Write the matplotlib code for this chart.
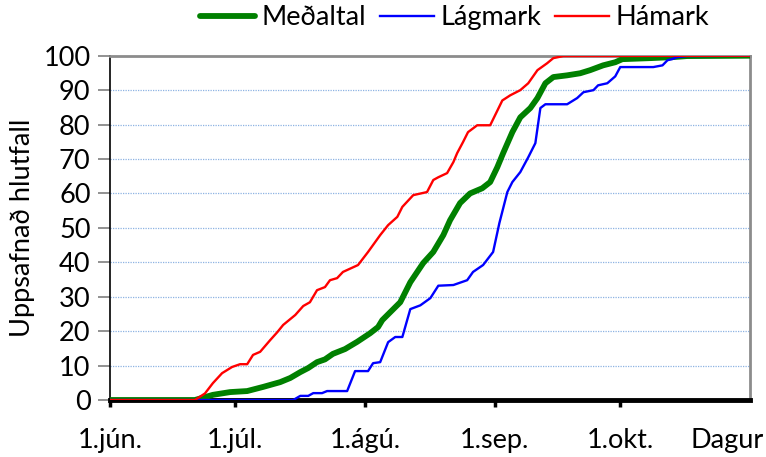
import matplotlib.pyplot as plt

plt.rcParams['font.family'] = ['Lato', 'DejaVu Sans']

# Days counted from 1 June
month_ticks = [0, 30, 61, 92, 122]
month_labels = ['1.jún.', '1.júl.', '1.ágú.', '1.sep.', '1.okt.']
x_end = 153

# Meðaltal (average)
avg_day = [0, 20.3, 24.6, 28.7, 32.8, 36.6, 40.7, 43.1, 45.5, 47.4, 49.5, 51.4,
           53.3, 56.2, 59.1, 62.2, 64.1, 65.1, 67.0, 69.4, 71.8, 74.9, 77.3, 79.7,
           81.3, 83.7, 86.1, 89.0, 90.9, 92.6, 94.0, 96.2, 98.1, 100.5, 102.2,
           104.1, 106.0, 109.3, 112.4, 114.8, 117.9, 120.8, 122.5, 129.2, 134.7,
           138.0, 153]
avg_val = [0, 0, 1.5, 2.3, 2.6, 3.8, 5.2, 6.4, 8.1, 9.3, 11.0, 11.8,
           13.4, 14.8, 16.9, 19.4, 21.2, 23.2, 25.5, 28.4, 34.2, 39.8, 43.0, 47.9,
           52.2, 57.2, 60.0, 61.5, 63.3, 67.6, 71.7, 77.8, 82.1, 84.8, 87.7,
           92.0, 93.8, 94.3, 94.9, 95.8, 97.2, 98.1, 99.0, 99.3, 99.6,
           99.9, 100]

# Lágmark (minimum)
low_day = [0, 43.8, 45.5, 47.4, 48.6, 50.7, 51.9, 56.7, 58.6, 61.7, 62.9, 64.6,
           66.5, 68.2, 69.9, 71.8, 74.2, 76.6, 78.5, 82.1, 85.4, 86.8, 89.2, 91.6,
           93.1, 95.0, 96.2, 98.1, 100.0, 101.7, 102.9, 104.1, 109.3, 111.7, 113.2,
           115.6, 116.7, 118.9, 120.8, 122.0, 129.9, 132.1, 133.3, 134.4, 135.6,
           138.0, 153]
low_val = [0, 0, 1.2, 1.2, 2.0, 2.0, 2.6, 2.6, 8.4, 8.4, 10.7, 11.0,
           16.8, 18.3, 18.3, 26.4, 27.5, 29.6, 33.2, 33.4, 34.8, 37.2, 39.2, 43.0,
           51.4, 60.4, 63.3, 66.2, 70.5, 74.6, 84.8, 85.9, 85.9, 87.7, 89.4,
           90.0, 91.4, 92.0, 94.0, 96.7, 96.7, 97.2, 98.7, 99.0, 99.6,
           99.9, 100]

# Hámark (maximum)
high_day = [0, 20.3, 22.7, 24.6, 26.8, 29.2, 31.1, 32.8, 34.2, 35.9, 38.3, 40.0,
            41.4, 44.3, 46.2, 47.8, 49.5, 51.4, 52.6, 54.3, 55.7, 59.3, 61.7, 64.6,
            66.5, 68.7, 69.9, 72.5, 75.8, 77.3, 78.5, 80.6, 82.1, 83.0, 84.4, 85.6,
            87.8, 90.9, 93.8, 95.7, 98.1, 100.0, 102.2, 104.5, 106.0, 108.4, 153]
high_val = [0, 0, 1.9, 4.9, 7.8, 9.6, 10.4, 10.4, 13.1, 14.0, 17.4, 19.7,
            21.8, 24.7, 27.3, 28.4, 31.9, 32.8, 34.8, 35.4, 37.2, 39.2, 43.0, 47.9,
            50.8, 53.2, 56.1, 59.5, 60.4, 63.9, 64.7, 65.9, 69.1, 71.7, 74.9, 77.8,
            79.8, 79.8, 87.0, 88.5, 90.0, 92.0, 95.8, 97.8, 99.3, 99.9, 100]

fs = 19.5

fig = plt.figure(figsize=(7.66, 4.57), dpi=100)
ax = fig.add_axes([0.1436, 0.1247, 0.8354, 0.7534])

# dotted horizontal gridlines
for yv in range(10, 100, 10):
    ax.axhline(yv, color='#8db3e2', lw=0.9, ls=(0, (1, 1)), zorder=0)

ax.plot(avg_day, avg_val, color='#008000', lw=4.2, label='Meðaltal',
        solid_capstyle='round', zorder=3)
ax.plot(low_day, low_val, color='#0000ff', lw=1.7, label='Lágmark', zorder=4)
ax.plot(high_day, high_val, color='#ff0000', lw=1.7, label='Hámark', zorder=5)

ax.set_xlim(0, x_end)
ax.set_ylim(0, 100)
ax.set_yticks(range(0, 101, 10))
ax.set_xticks(month_ticks)
ax.set_xticklabels(month_labels)

ax.tick_params(axis='y', labelsize=fs, length=9, width=1.2, color='#7f7f7f',
               direction='out', pad=5)
ax.tick_params(axis='x', labelsize=fs, length=5, width=2.5, color='black',
               direction='out', pad=15)

ax.spines['left'].set_color('black')
ax.spines['left'].set_linewidth(1.2)
ax.spines['bottom'].set_color('black')
ax.spines['bottom'].set_linewidth(3.5)
ax.spines['top'].set_color('#8c8c8c')
ax.spines['top'].set_linewidth(2)
ax.spines['right'].set_color('#8c8c8c')
ax.spines['right'].set_linewidth(2)

ax.set_ylabel('Uppsafnað hlutfall', fontsize=fs, labelpad=6)
fig.text(0.949, 0.037, 'Dagur', fontsize=fs, ha='center', va='center')

ax.legend(loc='center', bbox_to_anchor=(0.539, 1.11), ncol=3, frameon=False,
          fontsize=fs, handlelength=2.0, handletextpad=0.25, columnspacing=0.5,
          borderaxespad=0.0, borderpad=0.0)

fig.savefig('out.png', dpi=100)
